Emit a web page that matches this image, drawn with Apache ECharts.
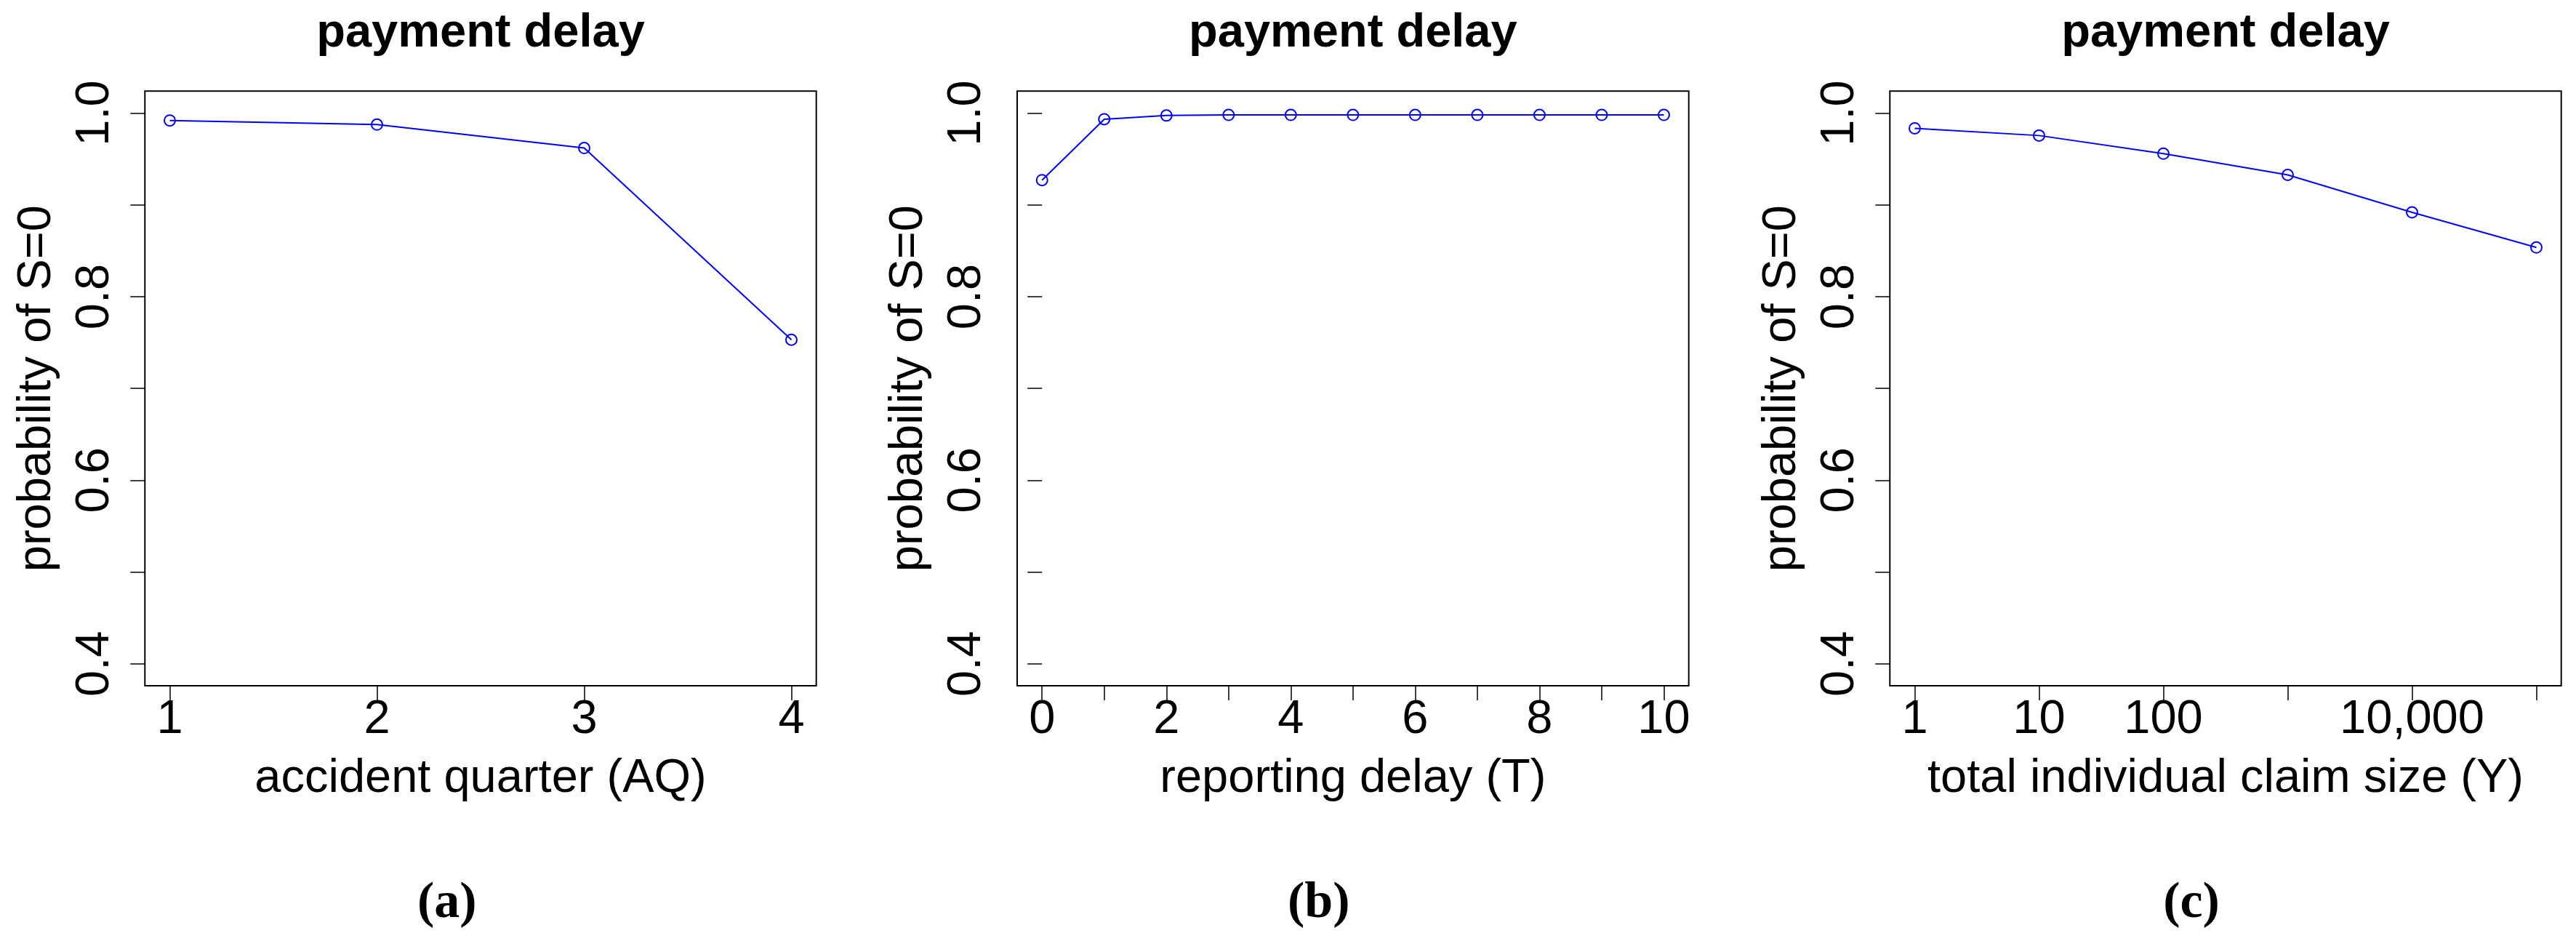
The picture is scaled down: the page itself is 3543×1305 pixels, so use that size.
<!DOCTYPE html>
<html>
<head>
<meta charset="utf-8">
<script src="https://cdn.jsdelivr.net/npm/echarts@6/dist/echarts.min.js"></script>
<style>
  html, body { margin: 0; padding: 0; background: #fff; }
  #chart { width: 3543px; height: 1305px; }
</style>
</head>
<body>
<div id="chart"></div>
<script>
// ---------- data ----------
const panelTitle = 'payment delay';
const yAxisTitle = 'probability of S=0';

const aqCategories = [1, 2, 3, 4];
const aqValues = [0.992, 0.9875, 0.962, 0.753];

const delayCategories = [0, 1, 2, 3, 4, 5, 6, 7, 8, 9, 10];
const delayValues = [0.927, 0.9934, 0.9974, 0.998, 0.998, 0.998, 0.998, 0.998, 0.998, 0.998, 0.998];

const claimSizes = [1, 10, 100, 1000, 10000, 100000];
const claimValues = [0.9835, 0.9756, 0.9558, 0.9327, 0.8919, 0.8536];

const yTicks = [0.4, 0.5, 0.6, 0.7, 0.8, 0.9, 1.0];
const yTickLabels = [0.4, 0.6, 0.8, 1.0];
const aqTicks = [1, 2, 3, 4];
const delayTicks = [0, 1, 2, 3, 4, 5, 6, 7, 8, 9, 10];
const delayTickLabels = [0, 2, 4, 6, 8, 10];
const claimTicks = [1, 10, 100, 1000, 10000, 100000];
const claimTickLabels = [1, 10, 100, 10000];

const xTitles = ['accident quarter (AQ)', 'reporting delay (T)', 'total individual claim size (Y)'];
const captions = ['a', 'b', 'c'];

// ---------- layout ----------
const FONT = '"Liberation Sans", Arial, Helvetica, sans-serif';
const FS = 65;
const boxes = [
  { left: 199.3, width: 923.4 },
  { left: 1399.0, width: 923.7 },
  { left: 2599.3, width: 923.4 }
];
const boxTop = 125.3, boxHeight = 817.7;
const captionCenters = [614.7, 1813.7, 3014.0];

function pad(min, max) { const d = (max - min) * 0.04; return [min - d, max + d]; }
const yr = pad(0.4, 1.0);
const ar = pad(1, 4);
const dr = pad(0, 10);
const cr = pad(0, 5); // in log10 units

const grids = boxes.map(b => ({
  left: b.left, top: boxTop, width: b.width, height: boxHeight,
  show: true, borderColor: '#000', borderWidth: 2, backgroundColor: 'transparent',
  containLabel: false
}));

const tickStyle = { show: true, inside: false, length: 20, lineStyle: { color: '#000', width: 1.5 } };
const labelBase = { color: '#000', fontFamily: FONT, fontSize: FS };

function xAxisDef(idx, type, range, ticks, labels, formatter) {
  return {
    type: type, gridIndex: idx, min: range[0], max: range[1],
    name: xTitles[idx], nameLocation: 'middle', nameGap: 96,
    nameTextStyle: { color: '#000', fontFamily: FONT, fontSize: FS },
    axisLine: { show: false },
    splitLine: { show: false },
    minorTick: { show: false },
    axisTick: Object.assign({}, tickStyle, { customValues: ticks }),
    axisLabel: Object.assign({}, labelBase, { margin: 15, customValues: labels, formatter: formatter, showMinLabel: true, showMaxLabel: true, hideOverlap: false })
  };
}

const xAxes = [
  xAxisDef(0, 'value', ar, aqTicks, aqTicks, v => String(v)),
  xAxisDef(1, 'value', dr, delayTicks, delayTickLabels, v => String(v)),
  xAxisDef(2, 'log', [Math.pow(10, cr[0]), Math.pow(10, cr[1])], claimTicks, claimTickLabels,
    v => Math.round(v).toLocaleString('en-US'))
];
xAxes[2].logBase = 10;

const yAxes = [0, 1, 2].map(i => ({
  type: 'value', gridIndex: i, min: yr[0], max: yr[1],
  name: yAxisTitle, nameLocation: 'middle', nameGap: 116, nameRotate: 90,
  nameTextStyle: { color: '#000', fontFamily: FONT, fontSize: FS },
  axisLine: { show: false },
  splitLine: { show: false },
  axisTick: Object.assign({}, tickStyle, { customValues: yTicks }),
  axisLabel: Object.assign({}, labelBase, { rotate: 90, margin: 36, customValues: yTickLabels,
    formatter: v => Number(v).toFixed(1), showMinLabel: true, showMaxLabel: true, hideOverlap: false })
}));

function lineSeries(idx, xs, ys) {
  return {
    type: 'line', xAxisIndex: idx, yAxisIndex: idx,
    data: xs.map((x, k) => [x, ys[k]]),
    symbol: 'circle', symbolSize: 15, showSymbol: true,
    lineStyle: { color: '#0000ff', width: 2 },
    itemStyle: { color: 'rgba(0,0,0,0)', borderColor: '#0000ff', borderWidth: 2 },
    emphasis: { disabled: true },
    animation: false, clip: false, z: 3
  };
}

const titles = [];
boxes.forEach((b, i) => {
  titles.push({
    text: panelTitle, left: b.left + b.width / 2, top: 14, padding: 0,
    textAlign: 'center',
    textStyle: { color: '#000', fontFamily: FONT, fontSize: FS, fontWeight: 'bold' }
  });
  titles.push({
    text: '{p|(}{b|' + captions[i] + '}{p|)}', left: captionCenters[i], top: 1208, padding: 0,
    textAlign: 'center',
    textStyle: {
      rich: {
        p: { fontFamily: '"Liberation Serif", "DejaVu Serif", serif', fontSize: 70, color: '#000' },
        b: { fontFamily: '"Liberation Serif", "DejaVu Serif", serif', fontSize: 70, fontWeight: 'bold', color: '#000' }
      }
    }
  });
});

const chart = echarts.init(document.getElementById('chart'), null, { renderer: 'canvas' });
chart.setOption({
  animation: false,
  backgroundColor: '#fff',
  title: titles,
  grid: grids,
  xAxis: xAxes,
  yAxis: yAxes,
  series: [
    lineSeries(0, aqCategories, aqValues),
    lineSeries(1, delayCategories, delayValues),
    lineSeries(2, claimSizes, claimValues)
  ]
});
</script>
</body>
</html>
